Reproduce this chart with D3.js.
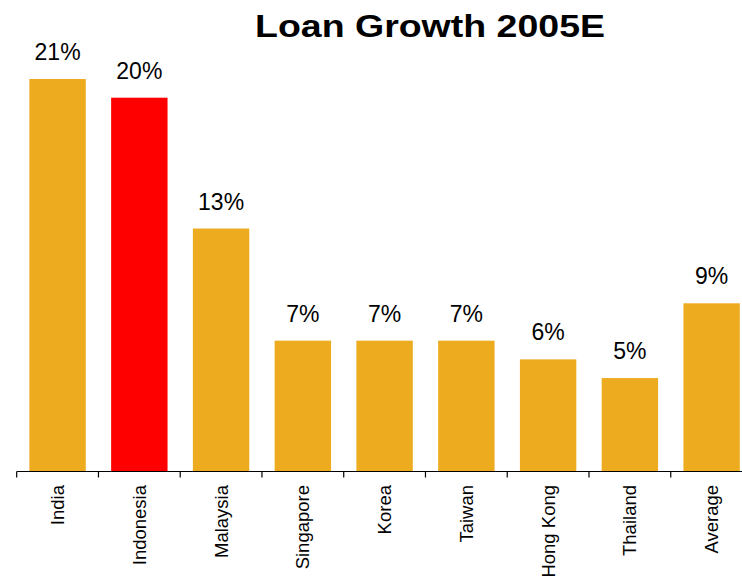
<!DOCTYPE html>
<html>
<head>
<meta charset="utf-8">
<script src="https://cdn.jsdelivr.net/npm/d3@7"></script>
<style>
  html, body { margin: 0; padding: 0; background: #fff; }
  svg { display: block; }
</style>
</head>
<body>
<script>
const categories = ["India", "Indonesia", "Malaysia", "Singapore", "Korea", "Taiwan", "Hong Kong", "Thailand", "Average"];
const values = [21, 20, 13, 7, 7, 7, 6, 5, 9];
const valueLabels = ["21%", "20%", "13%", "7%", "7%", "7%", "6%", "5%", "9%"];
const highlight = ["Indonesia"];
const title = "Loan Growth 2005E";

const W = 742, H = 577;
const svg = d3.select("body").append("svg").attr("width", W).attr("height", H);

const x = d3.scaleBand().domain(categories).range([16.7, 752.5]).paddingInner(0.31).paddingOuter(0.155);
const y = d3.scaleLinear().domain([0, 21]).range([471.5, 79]);

svg.append("text")
  .attr("x", 430).attr("y", 37)
  .attr("text-anchor", "middle")
  .attr("font-family", "Liberation Sans, Arial, sans-serif")
  .attr("font-weight", "bold")
  .attr("font-size", 31)
  .attr("textLength", 350)
  .attr("lengthAdjust", "spacingAndGlyphs")
  .attr("fill", "#000")
  .text(title);

svg.append("g").selectAll("rect")
  .data(categories)
  .join("rect")
  .attr("x", d => x(d))
  .attr("width", x.bandwidth())
  .attr("y", (d, i) => y(values[i]))
  .attr("height", (d, i) => y(0) - y(values[i]))
  .attr("fill", d => highlight.includes(d) ? "#FF0000" : "#EDAC20");

svg.append("g").selectAll("text")
  .data(categories)
  .join("text")
  .attr("x", d => x(d) + x.bandwidth() / 2)
  .attr("y", (d, i) => y(values[i]) - 19)
  .attr("text-anchor", "middle")
  .attr("font-family", "Liberation Sans, Arial, sans-serif")
  .attr("font-size", 23)
  .attr("fill", "#000")
  .text((d, i) => valueLabels[i]);

// x axis: domain line + ticks at band boundaries
const axis = svg.append("g");
axis.append("line")
  .attr("x1", 16.7).attr("x2", W)
  .attr("y1", 471.5).attr("y2", 471.5)
  .attr("stroke", "#000").attr("stroke-width", 1.2);
const step = x.step();
const boundaries = d3.range(categories.length + 1).map(i => x(categories[0]) - (step - x.bandwidth()) / 2 + i * step);
axis.selectAll("line.tick")
  .data(boundaries)
  .join("line")
  .attr("class", "tick")
  .attr("x1", d => d).attr("x2", d => d)
  .attr("y1", 471.5).attr("y2", 477.5)
  .attr("stroke", "#000").attr("stroke-width", 1.2);

axis.selectAll("text.cat")
  .data(categories)
  .join("text")
  .attr("class", "cat")
  .attr("transform", d => `translate(${x(d) + x.bandwidth() / 2},485) rotate(-90)`)
  .attr("text-anchor", "end")
  .attr("dy", "0.35em")
  .attr("font-family", "Liberation Sans, Arial, sans-serif")
  .attr("font-size", 18.5)
  .attr("fill", "#000")
  .text(d => d);
</script>
</body>
</html>
